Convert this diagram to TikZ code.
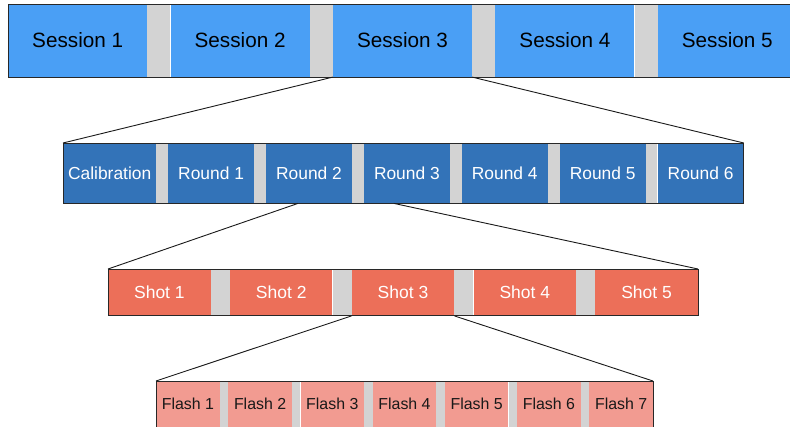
\documentclass[tikz,border=0pt]{standalone}
\usepackage{fontspec}
\setmainfont{Liberation Sans}
\usetikzlibrary{positioning}

\definecolor{sessionblue}{RGB}{74,159,245}
\definecolor{roundblue}{RGB}{51,115,184}
\definecolor{shotred}{RGB}{236,111,89}
\definecolor{flashpink}{RGB}{242,155,145}
\definecolor{gapgray}{RGB}{211,211,211}
\definecolor{framegray}{RGB}{40,40,40}

\begin{document}
\begin{tikzpicture}[x=1pt,y=-1pt]
\useasboundingbox (0,0) rectangle (790,426);
\clip (0,0) rectangle (790,426);

\tikzstyle{sessionnode} = [minimum width=139pt,minimum height=72.7pt,inner sep=0pt,fill=sessionblue,text=black,font=\fontsize{20.7}{24}\selectfont];
\tikzstyle{roundnode} = [minimum width=86pt,minimum height=60pt,inner sep=0pt,fill=roundblue,text=white,font=\fontsize{17.4}{21}\selectfont];
\tikzstyle{shotnode} = [minimum width=102.4pt,minimum height=46.5pt,inner sep=0pt,fill=shotred,text=white,font=\fontsize{17.5}{21}\selectfont];
\tikzstyle{flashnode} = [minimum width=63.4pt,minimum height=46pt,inner sep=0pt,fill=flashpink,text=black!90,font=\fontsize{15.9}{19}\selectfont];
\tikzstyle{rowframe} = [draw=framegray,line width=0.9pt];
\tikzstyle{zoomline} = [draw=black!90,line width=0.9pt];

% sessions
\node [sessionnode,anchor=north west] (s1) at (8,4) {Session 1};
\node [sessionnode,anchor=north west] (s2) at ([xshift=23pt]s1.north east) {Session 2};
\node [sessionnode,anchor=north west] (s3) at ([xshift=23pt]s2.north east) {Session 3};
\node [sessionnode,anchor=north west] (s4) at ([xshift=23pt]s3.north east) {Session 4};
\node [sessionnode,anchor=north west] (s5) at ([xshift=23pt]s4.north east) {Session 5};
\foreach \a/\b in {s1/s2,s2/s3,s3/s4,s4/s5}
  \fill [gapgray] (\a.north east) rectangle (\b.south west);
\draw [rowframe] (s1.north west) rectangle ([xshift=-7pt]s5.south east);

% rounds
\node [roundnode,minimum width=93pt,anchor=north west] (cal) at (63,143) {Calibration};
\node [roundnode,anchor=north west] (r1) at ([xshift=11.5pt]cal.north east) {Round 1};
\node [roundnode,anchor=north west] (r2) at ([xshift=11.5pt]r1.north east) {Round 2};
\node [roundnode,anchor=north west] (r3) at ([xshift=11.5pt]r2.north east) {Round 3};
\node [roundnode,anchor=north west] (r4) at ([xshift=11.5pt]r3.north east) {Round 4};
\node [roundnode,anchor=north west] (r5) at ([xshift=11.5pt]r4.north east) {Round 5};
\node [roundnode,anchor=north west] (r6) at ([xshift=11.5pt]r5.north east) {Round 6};
\foreach \a/\b in {cal/r1,r1/r2,r2/r3,r3/r4,r4/r5,r5/r6}
  \fill [gapgray] (\a.north east) rectangle (\b.south west);
\draw [rowframe] (cal.north west) rectangle (r6.south east);

% shots
\node [shotnode,anchor=north west] (sh1) at (108,269) {Shot 1};
\node [shotnode,anchor=north west] (sh2) at ([xshift=19pt]sh1.north east) {Shot 2};
\node [shotnode,anchor=north west] (sh3) at ([xshift=19pt]sh2.north east) {Shot 3};
\node [shotnode,anchor=north west] (sh4) at ([xshift=19pt]sh3.north east) {Shot 4};
\node [shotnode,anchor=north west] (sh5) at ([xshift=19pt]sh4.north east) {Shot 5};
\foreach \a/\b in {sh1/sh2,sh2/sh3,sh3/sh4,sh4/sh5}
  \fill [gapgray] (\a.north east) rectangle (\b.south west);
\draw [rowframe] (sh1.north west) rectangle (sh5.south east);

% flashes
\node [flashnode,anchor=north west] (f1) at (156,381) {Flash 1};
\node [flashnode,anchor=north west] (f2) at ([xshift=8.4pt]f1.north east) {Flash 2};
\node [flashnode,anchor=north west] (f3) at ([xshift=8.4pt]f2.north east) {Flash 3};
\node [flashnode,anchor=north west] (f4) at ([xshift=8.4pt]f3.north east) {Flash 4};
\node [flashnode,anchor=north west] (f5) at ([xshift=8.4pt]f4.north east) {Flash 5};
\node [flashnode,anchor=north west] (f6) at ([xshift=8.4pt]f5.north east) {Flash 6};
\node [flashnode,anchor=north west] (f7) at ([xshift=8.4pt]f6.north east) {Flash 7};
\foreach \a/\b in {f1/f2,f2/f3,f3/f4,f4/f5,f5/f6,f6/f7}
  \fill [gapgray] (\a.north east) rectangle (\b.south west);
\draw [rowframe] (f1.north west) rectangle (f7.south east);

% zoom lines
\draw [zoomline] (s3.south west) -- (cal.north west);
\draw [zoomline] (s3.south east) -- (r6.north east);
\draw [zoomline] ([xshift=-11pt]r2.south) -- (sh1.north west);
\draw [zoomline] ([xshift=-13pt]r3.south) -- (sh5.north east);
\draw [zoomline] (sh3.south west) -- (f1.north west);
\draw [zoomline] (sh3.south east) -- (f7.north east);

\end{tikzpicture}
\end{document}
